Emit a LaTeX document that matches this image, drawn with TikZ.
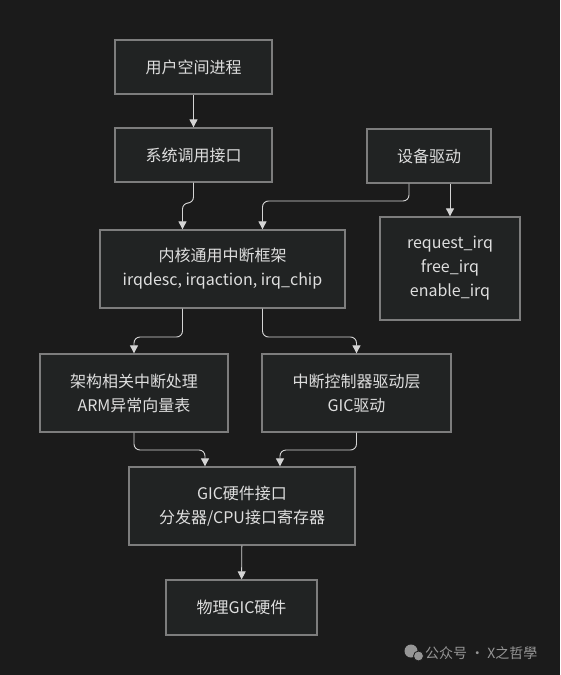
\documentclass[tikz,border=0pt]{standalone}
\usepackage{fontspec}
\setmainfont{Noto Sans CJK SC}
\definecolor{bgdark}{RGB}{27,27,27}
\definecolor{boxfill}{RGB}{33,35,35}
\definecolor{boxedge}{RGB}{125,125,125}
\definecolor{boxtext}{RGB}{222,222,222}
\definecolor{linegray}{RGB}{212,212,212}
\definecolor{wmgray}{RGB}{150,150,150}
\usetikzlibrary{arrows.meta,positioning,calc}

\begin{document}
\begin{tikzpicture}[x=1pt,y=-1pt,
  flowbox/.style={
    rectangle, draw=boxedge, line width=1.3pt,
    fill=boxfill, text=boxtext,
    inner sep=0pt, align=center,
    font=\fontsize{16}{24}\selectfont
  },
  conn/.style={-{Triangle[length=8pt,width=8pt]}, line width=0.9pt,
    draw=linegray, rounded corners=6pt}
]
\fill[bgdark] (0,0) rectangle (560,675);
\useasboundingbox (0,0) rectangle (560,675);

\node[flowbox, minimum width=157pt, minimum height=54pt] (user)    at (193.5,67)  {用户空间进程};
\node[flowbox, minimum width=157pt, minimum height=54pt] (syscall) at (193.5,155) {系统调用接口};
\node[flowbox, minimum width=124pt, minimum height=54pt] (drv)     at (429,156)   {设备驱动};
\node[flowbox, minimum width=140pt, minimum height=103pt] (api)    at (450,268.5) {request\_irq\\free\_irq\\enable\_irq};
\node[flowbox, minimum width=245pt, minimum height=78pt] (core)    at (222.5,269) {内核通用中断框架\\irqdesc, irqaction, irq\_chip};
\node[flowbox, minimum width=188pt, minimum height=78pt] (arch)    at (134,393)   {架构相关中断处理\\ARM异常向量表};
\node[flowbox, minimum width=189pt, minimum height=78pt] (gicdrv)  at (356.5,393) {中断控制器驱动层\\GIC驱动};
\node[flowbox, minimum width=226pt, minimum height=78pt] (gicif)   at (242,506)   {GIC硬件接口\\分发器/CPU接口寄存器};
\node[flowbox, minimum width=151pt, minimum height=55pt] (gichw)   at (241.5,607.5) {物理GIC硬件};

\coordinate (drvL)   at ($(drv.south)+(-20,0)$);
\coordinate (coreTL) at ($(core.north)+(-40,0)$);
\coordinate (coreTR) at ($(core.north)+(40,0)$);
\coordinate (coreBL) at ($(core.south)+(-40,0)$);
\coordinate (coreBR) at ($(core.south)+(40,0)$);
\coordinate (gicifL) at ($(gicif.north)+(-37,0)$);
\coordinate (gicifR) at ($(gicif.north)+(38,0)$);

\draw[conn] (user) -- (syscall);
\draw[conn] (syscall.south) -- (syscall.south |- 0,203) -| (coreTL);
\draw[conn] (drvL) -- (drvL |- 0,201) -| (coreTR);
\draw[conn] (api.north |- drv.south) -- (api.north);
\draw[conn] (coreBL) -- (coreBL |- 0,337) -| (arch.north);
\draw[conn] (coreBR) -- (coreBR |- 0,337) -| (gicdrv.north);
\draw[conn] (arch.south) -- (arch.south |- 0,450) -| (gicifL);
\draw[conn] (gicdrv.south) -- (gicdrv.south |- 0,450) -| (gicifR);
\draw[conn] (gicif) -- (gichw);

% watermark
\fill[wmgray] (411,651) circle (6.5pt);
\fill[wmgray, draw=bgdark, line width=0.8pt] (418.5,656) circle (5pt);
\node[font=\fontsize{14}{16}\selectfont, text=wmgray, anchor=east] (mark) at (541,653) {公众号 · X之哲學};
\end{tikzpicture}
\end{document}
